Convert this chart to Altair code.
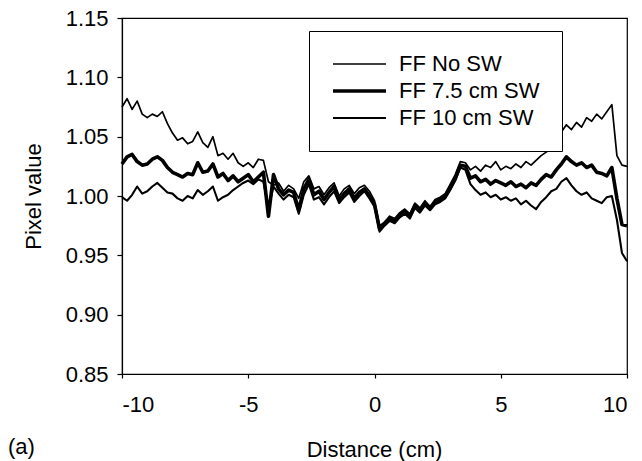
import altair as alt
import pandas as pd

distance = [
    -10.0, -9.8, -9.6, -9.4, -9.2, -9.0, -8.8, -8.6, -8.4, -8.2,
    -8.0, -7.8, -7.6, -7.4, -7.2, -7.0, -6.8, -6.6, -6.4, -6.2,
    -6.0, -5.8, -5.6, -5.4, -5.2, -5.0, -4.8, -4.6, -4.4, -4.2,
    -4.0, -3.8, -3.6, -3.4, -3.2, -3.0, -2.8, -2.6, -2.4, -2.2,
    -2.0, -1.8, -1.6, -1.4, -1.2, -1.0, -0.8, -0.6, -0.4, -0.2,
    0.0, 0.2, 0.4, 0.6, 0.8, 1.0, 1.2, 1.4, 1.6, 1.8,
    2.0, 2.2, 2.4, 2.6, 2.8, 3.0, 3.2, 3.4, 3.6, 3.8,
    4.0, 4.2, 4.4, 4.6, 4.8, 5.0, 5.2, 5.4, 5.6, 5.8,
    6.0, 6.2, 6.4, 6.6, 6.8, 7.0, 7.2, 7.4, 7.6, 7.8,
    8.0, 8.2, 8.4, 8.6, 8.8, 9.0, 9.2, 9.4, 9.6, 9.8, 10.0,
]

ff_no_sw = [
    1.075, 1.082, 1.073, 1.080, 1.069, 1.066, 1.069, 1.067, 1.071, 1.061,
    1.053, 1.047, 1.049, 1.044, 1.046, 1.054, 1.045, 1.041, 1.050, 1.034,
    1.036, 1.031, 1.036, 1.028, 1.025, 1.028, 1.024, 1.031, 1.030, 1.012,
    1.009, 1.011, 1.004, 1.009, 1.006, 0.998, 1.012, 1.017, 1.006, 1.008,
    1.001, 1.007, 1.011, 1.000, 1.006, 1.009, 1.002, 1.007, 1.009, 1.004,
    0.996, 0.975, 0.978, 0.983, 0.981, 0.986, 0.989, 0.985, 0.994, 0.990,
    0.996, 0.991, 0.997, 0.999, 1.002, 1.010, 1.018, 1.029, 1.028, 1.022,
    1.025, 1.021, 1.026, 1.024, 1.029, 1.022, 1.025, 1.023, 1.027, 1.024,
    1.029, 1.026, 1.030, 1.034, 1.037, 1.040, 1.043, 1.054, 1.060, 1.056,
    1.062, 1.058, 1.066, 1.063, 1.069, 1.065, 1.071, 1.077, 1.034, 1.026, 1.025,
]

ff_75_sw = [
    1.027, 1.033, 1.035, 1.029, 1.026, 1.027, 1.031, 1.033, 1.030, 1.024,
    1.020, 1.018, 1.016, 1.019, 1.018, 1.028, 1.020, 1.021, 1.027, 1.016,
    1.019, 1.013, 1.017, 1.012, 1.015, 1.018, 1.012, 1.016, 1.020, 0.983,
    1.018, 1.006, 1.001, 1.005, 1.003, 0.988, 1.006, 1.014, 1.001, 1.004,
    0.997, 1.003, 1.008, 0.997, 1.002, 1.006, 0.998, 1.003, 1.006, 1.000,
    0.993, 0.972, 0.977, 0.981, 0.979, 0.984, 0.987, 0.983, 0.992, 0.988,
    0.994, 0.990, 0.995, 0.997, 1.000, 1.007, 1.015, 1.026, 1.025, 1.015,
    1.017, 1.012, 1.014, 1.010, 1.013, 1.011, 1.009, 1.012, 1.008, 1.010,
    1.007, 1.011, 1.009, 1.014, 1.018, 1.016, 1.022, 1.027, 1.033, 1.029,
    1.026, 1.028, 1.024, 1.026, 1.020, 1.019, 1.017, 1.024, 0.998, 0.976, 0.975,
]

ff_10_sw = [
    0.999, 0.996, 1.001, 1.008, 1.002, 1.004, 1.008, 1.011, 1.007, 1.003,
    1.002, 0.998, 0.996, 1.000, 0.998, 1.005, 1.001, 1.004, 1.008, 0.996,
    0.999, 1.001, 1.005, 1.008, 1.011, 1.013, 1.010, 1.014, 1.012, 0.990,
    1.008, 1.002, 0.997, 1.001, 0.999, 0.985, 1.001, 1.010, 0.997, 0.999,
    0.993, 0.999, 1.004, 0.994, 0.999, 1.003, 0.995, 1.000, 1.004, 0.998,
    0.991, 0.970, 0.975, 0.979, 0.977, 0.982, 0.985, 0.981, 0.990, 0.986,
    0.992, 0.988, 0.993, 0.995, 0.998, 1.005, 1.013, 1.024, 1.022, 1.010,
    1.005, 1.001, 1.003, 0.999, 1.001, 0.997, 0.999, 0.996, 0.998, 0.993,
    0.996, 0.992, 0.989, 0.995, 0.999, 1.004, 1.006, 1.012, 1.015, 1.009,
    1.004, 1.001, 1.003, 0.998, 0.996, 0.994, 0.999, 1.000, 0.980, 0.952, 0.945,
]

series_names = ["FF No SW", "FF 7.5 cm SW", "FF 10 cm SW"]
series_widths = [1.7, 3.6, 2.1]
x_ticks = [-10, -5, 0, 5, 10]
y_ticks = [0.85, 0.90, 0.95, 1.00, 1.05, 1.10, 1.15]

rows = []
for name, vals in zip(series_names, [ff_no_sw, ff_75_sw, ff_10_sw]):
    for i, (d, v) in enumerate(zip(distance, vals)):
        rows.append({"series": name, "distance": d, "value": v, "order": i})
df = pd.DataFrame(rows)

FONT = "Liberation Sans"

lines = alt.Chart(df).mark_line(color="black", strokeJoin="round").encode(
    x=alt.X("distance:Q",
            scale=alt.Scale(domain=[-10, 10], nice=False, zero=False),
            axis=alt.Axis(values=x_ticks, title="Distance (cm)",
                          labelExpr="toString(datum.value)",
                          tickSize=4, labelPadding=16, grid=False,
                          titleX=252, titleY=82, titleBaseline="alphabetic")),
    y=alt.Y("value:Q",
            scale=alt.Scale(domain=[0.85, 1.15], nice=False, zero=False),
            axis=alt.Axis(values=y_ticks, format=".2f", title="Pixel value",
                          tickSize=5, labelPadding=9, grid=False,
                          titleX=-82, titleY=178, titleBaseline="alphabetic")),
    strokeWidth=alt.StrokeWidth(
        "series:N",
        scale=alt.Scale(type="ordinal", domain=series_names, range=series_widths),
        legend=alt.Legend(title=None, orient="none", legendX=187, legendY=13,
                          symbolType="stroke", symbolSize=2809, clipHeight=22,
                          symbolStrokeColor="black", strokeColor="black",
                          fillColor="white", padding=22, rowPadding=5,
                          labelOffset=11, labelFont=FONT, labelFontSize=22,
                          labelColor="black", cornerRadius=0),
    ),
    detail="series:N",
    order="order:Q",
)

panel_label = alt.Chart(pd.DataFrame({"t": ["(a)"]})).mark_text(
    align="left", baseline="alphabetic", font=FONT, fontSize=22, color="black"
).encode(text="t:N", x=alt.value(-114), y=alt.value(436))

chart = alt.layer(lines, panel_label).properties(
    width=505, height=356,
    autosize=alt.AutoSizeParams(type="none"),
    padding={"left": 122, "top": 18, "right": 15, "bottom": 87},
    background="white",
).configure_view(stroke="black", strokeWidth=1.2).configure_axis(
    labelFont=FONT, labelFontSize=22, labelColor="black",
    titleFont=FONT, titleFontSize=22, titleColor="black", titleFontWeight="normal",
    domainColor="black", tickColor="black", domainWidth=1.2, tickWidth=1.2,
)

chart.save("out.html", embed_options={"renderer": "svg", "actions": False})
